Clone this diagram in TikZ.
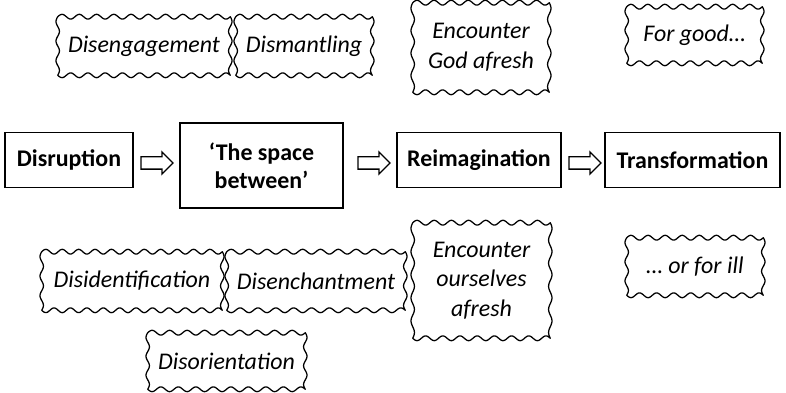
\documentclass[tikz,border=0pt]{standalone}
\usepackage{fontspec}
\setmainfont{Carlito}
\usetikzlibrary{shapes.arrows}

\tikzset{
    stagebox/.style={draw, line width=1.3pt, font=\fontsize{17}{20}\selectfont\bfseries, align=center, minimum height=1.375cm, inner sep=2pt},
    wavybox/.style={font=\fontsize{17}{21}\selectfont\itshape, align=center, inner sep=2pt},
    waveline/.style={line width=0.9pt, line join=round, samples=160},
    blockarrow/.style={draw, line width=0.9pt, single arrow, single arrow head extend=0.125cm, inner sep=0.1375cm, minimum height=0.8cm}
}

% wavy frame round a named node
\newcommand\wavyframe[1]{%
    \path (#1.south west); \pgfgetlastxy{\wxa}{\wya}%
    \path (#1.north east); \pgfgetlastxy{\wxb}{\wyb}%
    \pgfmathsetmacro\wnx{max(1,round((\wxb-\wxa)/12.1))}%
    \pgfmathsetmacro\wny{max(1,round((\wyb-\wya)/15))}%
    \draw[waveline]
        plot[domain=0:1] ({\wxa+(\wxb-\wxa)*\x}, {\wyb+1.7*sin(360*\wnx*\x)})
        -- plot[domain=0:1] ({\wxb+1.2*sin(360*\wny*\x)}, {\wyb-(\wyb-\wya)*\x})
        -- plot[domain=0:1] ({\wxb-(\wxb-\wxa)*\x}, {\wya+1.7*sin(360*\wnx*\x)})
        -- plot[domain=0:1] ({\wxa+1.2*sin(360*\wny*\x)}, {\wya+(\wyb-\wya)*\x})
        -- cycle;
}

\begin{document}
\begin{tikzpicture}
    \useasboundingbox (0,0) rectangle (19.65,9.825);
    % main row
    \node[stagebox, minimum width=3.2cm] (disruption) at (1.725,5.825) {Disruption};
    \node[stagebox, minimum width=4.075cm, minimum height=2.125cm] (space) at (6.5375,5.6875) {‘The space\\between’};
    \node[stagebox, minimum width=4.1cm] (reimag) at (11.975,5.825) {Reimagination};
    \node[stagebox, minimum width=4.375cm] (transf) at (17.3125,5.825) {Transformation};
    \node[blockarrow] (a1) at (3.85,5.75) {};
    \node[blockarrow] (a2) at (9.275,5.75) {};
    \node[blockarrow] (a3) at (14.55,5.75) {};
    % above
    \node[wavybox, minimum width=4.3cm, minimum height=1.45cm] (diseng) at (3.6,8.675) {Disengagement};
    \node[wavybox, minimum width=3.4cm, minimum height=1.45cm] (dismant) at (7.6,8.675) {Dismantling};
    \node[wavybox, minimum width=3.4cm, minimum height=2.225cm] (encgod) at (12.025,8.6375) {Encounter\\God afresh};
    \node[wavybox, minimum width=3.375cm, minimum height=1.4cm] (forgood) at (17.3625,8.95) {For good…};
    % below
    \node[wavybox, minimum width=4.5cm, minimum height=1.45cm] (disident) at (3.3,2.8) {Disidentification};
    \node[wavybox, minimum width=4.45cm, minimum height=1.45cm] (disench) at (7.9,2.8) {Disenchantment};
    \node[wavybox, minimum width=3.925cm, minimum height=1.4cm] (disorient) at (5.6625,0.8) {Disorientation};
    \node[wavybox, minimum width=3.425cm, minimum height=2.875cm] (encself) at (12.0375,2.8125) {Encounter\\ourselves\\afresh};
    \node[wavybox, minimum width=3.4cm, minimum height=1.425cm] (forill) at (17.375,3.1625) {… or for ill};
    \foreach \n in {diseng,dismant,encgod,forgood,disident,disench,disorient,encself,forill}
        \wavyframe{\n};
\end{tikzpicture}
\end{document}
